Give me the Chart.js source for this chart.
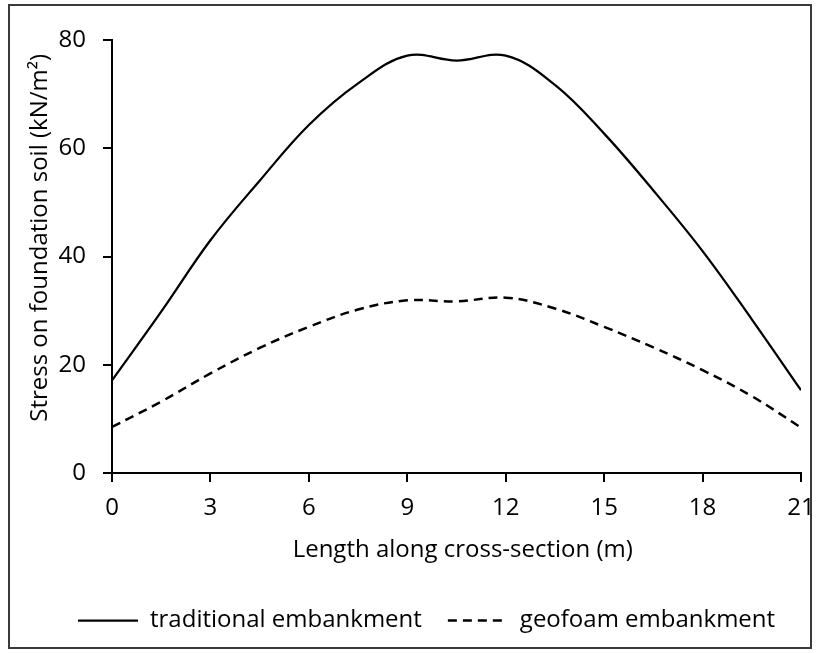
<!DOCTYPE html>
<html>
<head>
<meta charset="utf-8">
<script src="https://cdn.jsdelivr.net/npm/chart.js@4"></script>
<style>
html, body { margin: 0; padding: 0; background: #fff; }
#wrap { position: relative; width: 818px; height: 653px; }
#frame { position: absolute; left: 8px; top: 4px; width: 800px; height: 641px; border: 2px solid #3a3a3a; pointer-events: none; }
canvas { position: absolute; left: 0; top: 0; }
</style>
</head>
<body>
<div id="wrap">
  <canvas id="chart" width="818" height="653"></canvas>
  <div id="frame"></div>
</div>
<script>
/* ---------------- DATA ---------------- */
const LENGTHS = [0, 1.5, 3, 4.5, 6, 7.5, 9, 10.5, 12, 13.5, 15, 16.5, 18, 19.5, 21];   // m
const TRADITIONAL = [17.1, 29.8, 43.0, 54.0, 64.3, 72.0, 77.1, 76.2, 77.1, 71.7, 62.7, 52.2, 41.0, 28.4, 15.3];
const GEOFOAM = [8.5, 13.2, 18.4, 23.1, 27.0, 30.2, 31.9, 31.7, 32.4, 30.4, 27.0, 23.2, 19.0, 14.2, 8.4];
const SERIES_NAMES = ["traditional embankment", "geofoam embankment"];
// leading no-break spaces nudge the titles off-centre, as in the original
const X_TITLE = "\u00A0\u00A0Length along cross-section (m)";
const Y_TITLE = "\u00A0\u00A0\u00A0\u00A0\u00A0\u00A0Stress on foundation soil (kN/m\u00B2)";
/* -------------------------------------- */

const FONT = "'Open Sans', sans-serif";
const FS = 24;

function toPoints(values){
    return LENGTHS.map((x, i) => ({ x: x, y: values[i] }));
}

// legend starts near the left frame in the original, not centred
const legendShift = {
    id: 'legendShift',
    afterLayout(chart){
        if(chart.legend){
            chart.legend.left += 42;
            chart.legend.right += 42;
        }
    }
};

const ctx = document.getElementById('chart').getContext('2d');
new Chart(ctx, {
    type: 'line',
    data: {
        datasets: [{
            label: SERIES_NAMES[0],
            data: toPoints(TRADITIONAL),
            borderColor: '#000',
            backgroundColor: '#000',
            borderWidth: 2.25,
            pointRadius: 0,
            tension: 0.38
        }, {
            label: SERIES_NAMES[1],
            data: toPoints(GEOFOAM),
            borderColor: '#000',
            backgroundColor: '#000',
            borderWidth: 2.5,
            borderDash: [9, 6],
            pointRadius: 0,
            tension: 0.38
        }]
    },
    options: {
        responsive: false,
        animation: false,
        layout: { padding: { left: 10, right: 17, top: 40, bottom: 10.5 } },
        scales: {
            x: {
                type: 'linear',
                min: 0, max: 21,
                afterFit: s => { s.height = 109.5; s.paddingLeft = 0; s.paddingRight = 0; },
                ticks: { stepSize: 3, padding: 12, color: '#000', font: { family: FONT, size: FS } },
                grid: { display: true, drawOnChartArea: false, drawTicks: true, tickLength: 9, color: '#000', lineWidth: 2 },
                border: { display: true, color: '#000', width: 2 },
                title: { display: true, text: X_TITLE, color: '#000', font: { family: FONT, size: FS }, padding: { top: 0, bottom: 18 } }
            },
            y: {
                min: 0, max: 80,
                afterFit: s => { s.width = 102; },
                ticks: { stepSize: 20, padding: 17, color: '#000', font: { family: FONT, size: FS } },
                grid: { display: true, drawOnChartArea: false, drawTicks: true, tickLength: 9, color: '#000', lineWidth: 2 },
                border: { display: true, color: '#000', width: 2 },
                title: { display: true, text: Y_TITLE, color: '#000', font: { family: FONT, size: FS }, padding: { top: 15.6, bottom: 0 } }
            }
        },
        plugins: {
            legend: {
                position: 'bottom',
                align: 'start',
                labels: {
                    usePointStyle: true,
                    pointStyle: 'line',
                    pointStyleWidth: 60,
                    boxHeight: FS,
                    padding: 26,
                    color: '#000',
                    font: { family: FONT, size: FS },
                    generateLabels: chart => chart.data.datasets.map((ds, i) => ({
                        text: ds.label,
                        fillStyle: ds.borderColor,
                        strokeStyle: ds.borderColor,
                        fontColor: '#000',
                        lineWidth: ds.borderWidth,
                        lineDash: ds.borderDash || [],
                        pointStyle: 'line',
                        hidden: false,
                        datasetIndex: i
                    }))
                }
            },
            tooltip: { enabled: false }
        }
    },
    plugins: [legendShift]
});
</script>
</body>
</html>
